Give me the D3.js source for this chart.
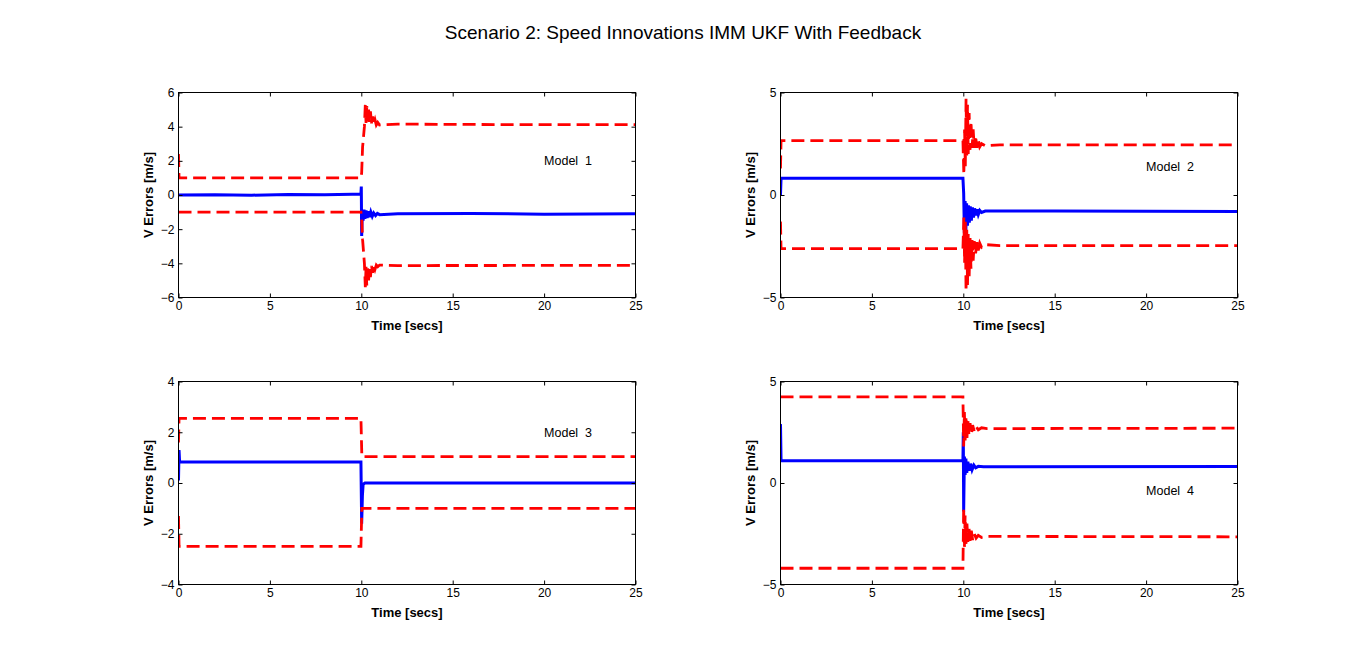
<!DOCTYPE html>
<html>
<head>
<meta charset="utf-8">
<script src="https://cdn.jsdelivr.net/npm/d3@7"></script>
<style>
  body { margin: 0; background: #fff; }
  svg { display: block; font-family: "Liberation Sans", Arial, sans-serif; }
  .tick text { font-size: 12px; fill: #000; }
  .tick line { stroke: #000; }
  .domain { display: none; }
</style>
</head>
<body>
<svg id="canvas" width="1367" height="652"></svg>
<script>
let titleText = "Scenario 2: Speed Innovations IMM UKF With Feedback";
let modelNames = ["Model  1", "Model  2", "Model  3", "Model  4"];
let timeTicks = [0, 5, 10, 15, 20, 25];
let yDomains = [[-6, 6], [-5, 5], [-4, 4], [-5, 5]];
let yTickValues = [[-6, -4, -2, 0, 2, 4, 6], [-5, 0, 5], [-4, -2, 0, 2, 4], [-5, 0, 5]];
let labelSpots = [[20, 2], [20, 1.4], [20, 2], [20, -0.4]];

// [time, value] pairs
let m1Err = [[0, 0], [2, 0.02], [4, -0.01], [6, 0.03], [8, 0.01], [9.5, 0.05], [9.98, 0.04], [10.0, 0.5],
  [10.02, -2.4], [10.06, -0.9], [10.1, -1.5], [10.15, -0.85], [10.2, -1.4], [10.26, -0.9], [10.32, -1.35],
  [10.38, -0.95], [10.45, -1.3], [10.52, -1.0], [10.6, -1.25], [10.68, -1.05], [10.78, -1.2], [10.88, -1.08],
  [11.0, -1.15], [12, -1.1], [16, -1.08], [20, -1.12], [25, -1.1]];
let m1Upper = [[0, 2.4], [0.03, 1.0], [5, 1.0], [9.98, 1.0], [10.02, 1.3], [10.07, 2.8], [10.12, 3.4],
  [10.17, 4.0], [10.22, 5.3], [10.26, 4.2], [10.3, 5.2], [10.35, 4.3], [10.4, 5.0], [10.45, 4.2],
  [10.5, 4.9], [10.56, 4.2], [10.62, 4.6], [10.68, 4.15], [10.75, 4.4], [10.82, 4.1], [10.9, 4.25],
  [11.0, 4.1], [12, 4.15], [18, 4.12], [25, 4.12]];
let m1Lower = [[0, -1.0], [9.98, -1.0], [10.02, -1.3], [10.07, -2.6], [10.12, -3.3], [10.17, -4.0],
  [10.22, -5.4], [10.26, -4.2], [10.3, -5.3], [10.35, -4.3], [10.4, -5.0], [10.45, -4.2], [10.5, -4.8],
  [10.56, -4.15], [10.62, -4.55], [10.68, -4.1], [10.75, -4.35], [10.82, -4.1], [10.9, -4.2], [11.0, -4.1],
  [12, -4.13], [25, -4.12]];

let m2Err = [[0, 0], [0.03, 0.82], [5, 0.82], [9.98, 0.82], [10.02, 0.1], [10.06, -1.85], [10.1, -0.3],
  [10.14, -1.7], [10.18, -0.4], [10.23, -1.5], [10.28, -0.5], [10.33, -1.35], [10.38, -0.55], [10.44, -1.25],
  [10.5, -0.6], [10.56, -1.1], [10.62, -0.65], [10.68, -1.0], [10.75, -0.7], [10.82, -0.95], [10.9, -0.75],
  [11.0, -0.85], [11.2, -0.78], [15, -0.78], [25, -0.8]];
let m2Upper = [[0, 1.3], [0.03, 2.65], [5, 2.65], [9.98, 2.65], [10.03, 1.0], [10.07, 3.2], [10.11, 1.4],
  [10.15, 4.7], [10.19, 1.8], [10.23, 4.4], [10.27, 2.0], [10.32, 4.0], [10.37, 2.2], [10.42, 3.6],
  [10.48, 2.3], [10.54, 3.2], [10.6, 2.3], [10.67, 2.9], [10.74, 2.3], [10.82, 2.7], [10.9, 2.35],
  [11.0, 2.5], [11.2, 2.4], [12, 2.45], [25, 2.45]];
let m2Lower = [[0, -1.3], [0.03, -2.62], [5, -2.62], [9.98, -2.62], [10.03, -1.1], [10.07, -3.3],
  [10.11, -1.3], [10.15, -4.7], [10.19, -1.7], [10.23, -4.4], [10.27, -1.9], [10.32, -4.0], [10.37, -2.1],
  [10.42, -3.6], [10.48, -2.2], [10.54, -3.2], [10.6, -2.25], [10.67, -2.9], [10.74, -2.3], [10.82, -2.7],
  [10.9, -2.35], [11.0, -2.55], [11.2, -2.42], [12, -2.47], [25, -2.47]];

let m3Err = [[0, 0.1], [0.03, 1.3], [0.06, 0.83], [5, 0.83], [9.98, 0.83], [10.02, -1.6], [10.06, -0.5],
  [10.1, -0.05], [10.2, 0.0], [15, 0.0], [25, 0.0]];
let m3Upper = [[0, 1.6], [0.03, 2.55], [5, 2.55], [9.98, 2.55], [10.03, 1.04], [25, 1.04]];
let m3Lower = [[0, -1.3], [0.03, -2.5], [5, -2.5], [9.98, -2.5], [10.03, -1.0], [25, -1.0]];

let m4Err = [[0, 2.9], [0.03, 1.09], [5, 1.09], [9.98, 1.09], [10.0, 2.5], [10.02, -1.4], [10.06, 1.3],
  [10.1, 0.4], [10.14, 1.2], [10.19, 0.5], [10.25, 1.05], [10.32, 0.6], [10.4, 0.95], [10.48, 0.65],
  [10.58, 0.88], [10.68, 0.75], [10.82, 0.82], [11.1, 0.8], [25, 0.81]];
let m4Upper = [[0, 4.24], [5, 4.24], [9.98, 4.24], [10.02, 1.8], [10.06, 3.5], [10.1, 2.1], [10.15, 3.3],
  [10.2, 2.2], [10.25, 3.1], [10.31, 2.35], [10.37, 2.95], [10.44, 2.45], [10.51, 2.85], [10.6, 2.55],
  [10.7, 2.78], [10.82, 2.62], [11.0, 2.72], [11.3, 2.68], [25, 2.7]];
let m4Lower = [[0, -4.2], [5, -4.2], [9.98, -4.2], [10.02, -1.2], [10.06, -3.2], [10.1, -1.6], [10.15, -3.0],
  [10.2, -2.0], [10.25, -2.9], [10.31, -2.2], [10.37, -2.85], [10.44, -2.35], [10.51, -2.8], [10.6, -2.5],
  [10.7, -2.72], [10.82, -2.58], [11.0, -2.68], [11.3, -2.63], [25, -2.65]];

let errSeries = [m1Err, m2Err, m3Err, m4Err];
let upperSeries = [m1Upper, m2Upper, m3Upper, m4Upper];
let lowerSeries = [m1Lower, m2Lower, m3Lower, m4Lower];

let canvas = d3.select("#canvas");

// plot boxes, MATLAB subplot(2,2,k) style
let cols = [[178, 635], [780, 1237]];
let rows = [[92, 297], [381, 584]];

canvas.append("text")
  .attr("x", 683)
  .attr("y", 39)
  .attr("text-anchor", "middle")
  .style("font-size", "19px")
  .text(titleText);

let drawPanel = (k) => {
  let [x0, x1] = cols[k % 2];
  let [y0, y1] = rows[Math.floor(k / 2)];
  let w = x1 - x0, h = y1 - y0;

  let x = d3.scaleLinear().domain([0, 25]).range([0, w]);
  let y = d3.scaleLinear().domain(yDomains[k]).range([h, 0]);

  let g = canvas.append("g").attr("transform", "translate(" + (x0 + 0.5) + "," + (y0 + 0.5) + ")");

  g.append("defs").append("clipPath").attr("id", "clip" + k)
    .append("rect").attr("width", w).attr("height", h);

  let line = d3.line().x((d) => x(d[0])).y((d) => y(d[1]));
  let plot = g.append("g").attr("clip-path", "url(#clip" + k + ")");

  plot.append("path").datum(errSeries[k])
    .attr("d", line).attr("fill", "none")
    .attr("stroke", "#0000ff").attr("stroke-width", 3);

  [upperSeries[k], lowerSeries[k]].forEach((s) => {
    plot.append("path").datum(s)
      .attr("d", line).attr("fill", "none")
      .attr("stroke", "#ff0000").attr("stroke-width", 2.8)
      .attr("stroke-dasharray", "13,6");
  });

  // ticks point inwards on all four sides
  g.append("g").attr("transform", "translate(0," + h + ")")
    .call(d3.axisBottom(x).tickValues(timeTicks).tickSize(-4).tickSizeOuter(0).tickPadding(4));
  g.append("g")
    .call(d3.axisTop(x).tickValues(timeTicks).tickSize(-4).tickSizeOuter(0).tickFormat(""));
  g.append("g")
    .call(d3.axisLeft(y).tickValues(yTickValues[k]).tickSize(-4).tickSizeOuter(0).tickPadding(4));
  g.append("g").attr("transform", "translate(" + w + ",0)")
    .call(d3.axisRight(y).tickValues(yTickValues[k]).tickSize(-4).tickSizeOuter(0).tickFormat(""));

  g.append("rect").attr("width", w).attr("height", h)
    .attr("fill", "none").attr("stroke", "#000").attr("stroke-width", 1);

  g.append("text")
    .attr("x", x(labelSpots[k][0])).attr("y", y(labelSpots[k][1]))
    .attr("dy", "0.35em")
    .style("font-size", "12.5px")
    .style("white-space", "pre")
    .text(modelNames[k]);

  g.append("text")
    .attr("x", w / 2).attr("y", h + 32)
    .attr("text-anchor", "middle")
    .style("font-size", "13px").style("font-weight", "bold")
    .text("Time [secs]");

  g.append("text")
    .attr("transform", "translate(-26," + h / 2 + ") rotate(-90)")
    .attr("text-anchor", "middle")
    .style("font-size", "13px").style("font-weight", "bold")
    .text("V Errors [m/s]");
};

[0, 1, 2, 3].forEach(drawPanel);
</script>
</body>
</html>
